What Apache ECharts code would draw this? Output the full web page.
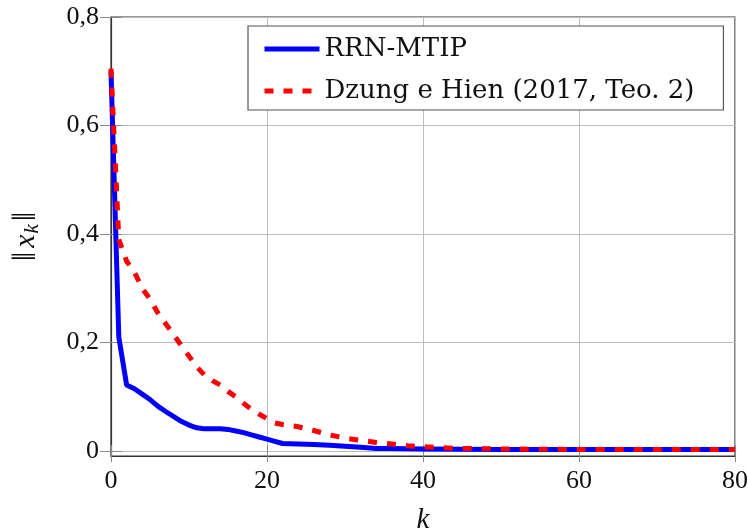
<!DOCTYPE html>
<html>
<head>
<meta charset="utf-8">
<script src="https://cdn.jsdelivr.net/npm/echarts@6/dist/echarts.min.js"></script>
<style>
  html, body { margin: 0; padding: 0; background: #fff; }
  #chart { width: 748px; height: 532px; }
</style>
</head>
<body>
<div id="chart"></div>
<script>
// Iteration index k and norm ||x_k|| for each method
const kRrn = [0, 1, 2, 3, 4, 5, 6, 7, 8, 9, 10, 11, 12, 13, 14, 15, 16, 17, 18, 19, 20, 21, 22, 24, 26, 28, 30, 32, 34, 36, 40, 50, 60, 70, 80];
const normRrn = [0.70, 0.21, 0.122, 0.115, 0.105, 0.095, 0.083, 0.073, 0.064, 0.055, 0.048, 0.043, 0.041, 0.041, 0.041, 0.040, 0.037, 0.034, 0.030, 0.026, 0.022, 0.018, 0.014, 0.013, 0.012, 0.011, 0.009, 0.007, 0.005, 0.005, 0.004, 0.003, 0.003, 0.003, 0.003];

const kDzung = [0, 1, 2, 3, 4, 5, 6, 7, 8, 9, 10, 11, 12, 13, 14, 15, 16, 17, 18, 19, 20, 21, 22, 24, 26, 28, 30, 32, 34, 36, 38, 40, 44, 50, 60, 70, 80];
const normDzung = [0.705, 0.39, 0.35, 0.33, 0.30, 0.28, 0.255, 0.235, 0.215, 0.195, 0.175, 0.155, 0.14, 0.13, 0.122, 0.11, 0.10, 0.088, 0.077, 0.068, 0.060, 0.052, 0.049, 0.045, 0.038, 0.030, 0.024, 0.020, 0.016, 0.013, 0.010, 0.008, 0.005, 0.004, 0.003, 0.003, 0.003];

const seriesNames = ['RRN-MTIP', 'Dzung e Hien (2017, Teo. 2)'];
const yTicks = [0, 0.2, 0.4, 0.6, 0.8];
const yTickLabels = ['0', '0,2', '0,4', '0,6', '0,8'];

const FONT = 'Liberation Serif';
const LEGEND_FONT = 'DejaVu Serif';
const pairs = (ks, vs) => ks.map((k, i) => [k, vs[i]]);

const chart = echarts.init(document.getElementById('chart'), null, { renderer: 'canvas' });

const yLabelMap = {};
yTicks.forEach((v, i) => { yLabelMap[v.toFixed(1)] = yTickLabels[i]; });

const gridLine = { show: true, lineStyle: { color: '#bdbdbd', width: 1 } };
const tickStyle = { show: true, inside: true, length: 11, lineStyle: { color: '#8a8a8a', width: 1 } };
const blueLine = { color: '#0000ff', width: 5, join: 'round' };
const redLine = { color: '#ff0000', width: 5, type: [9, 10], cap: 'butt' };

chart.setOption({
  animation: false,
  backgroundColor: '#ffffff',
  grid: {
    left: 111, right: 13, top: 17, bottom: 76,
    outerBoundsMode: 'none',
    containLabel: false,
    show: true, borderColor: '#333', borderWidth: 1.2, backgroundColor: 'transparent'
  },
  legend: {
    data: [
      { name: seriesNames[0], lineStyle: blueLine },
      { name: seriesNames[1], lineStyle: redLine }
    ],
    orient: 'vertical',
    left: 248, top: 26,
    itemWidth: 55, itemHeight: 14, itemGap: 12,
    padding: [8, 29, 4, 14],
    borderColor: '#555', borderWidth: 1.2,
    backgroundColor: '#fff',
    itemStyle: { opacity: 0 },
    textStyle: { fontFamily: LEGEND_FONT, fontSize: 26, color: '#111', lineHeight: 30 }
  },
  xAxis: [{
    type: 'value', min: 0, max: 80, interval: 20,
    name: 'k', nameLocation: 'middle', nameGap: 50,
    nameTextStyle: { fontFamily: FONT, fontSize: 29, fontStyle: 'italic', color: '#111' },
    axisLine: { show: true, onZero: false, lineStyle: { color: '#333', width: 1.2 } },
    axisTick: tickStyle,
    splitLine: gridLine,
    axisLabel: { fontFamily: FONT, fontSize: 26, color: '#111', margin: 12 }
  }, {
    type: 'value', min: 0, max: 80, interval: 20, position: 'top',
    axisLine: { show: false }, axisTick: tickStyle, axisLabel: { show: false }, splitLine: { show: false }
  }],
  yAxis: [{
    type: 'value', min: -0.009, max: 0.8,
    name: '{n|‖}{i|x}{s|k}{n|‖}', nameLocation: 'middle', nameGap: 68, nameRotate: 90,
    nameTextStyle: {
      fontFamily: FONT, fontSize: 30, color: '#111',
      rich: {
        n: { fontFamily: FONT, fontSize: 34, color: '#111', padding: [0, 2, 0, 2] },
        i: { fontFamily: FONT, fontSize: 30, fontStyle: 'italic', color: '#111', padding: [0, 1, 0, 2] },
        s: { fontFamily: FONT, fontSize: 21, fontStyle: 'italic', color: '#111', verticalAlign: 'bottom', padding: [12, 1, 0, 0] }
      }
    },
    axisLine: { show: true, onZero: false, lineStyle: { color: '#333', width: 1.2 } },
    axisTick: Object.assign({ customValues: yTicks }, tickStyle),
    splitLine: gridLine,
    axisLabel: {
      customValues: yTicks,
      fontFamily: FONT, fontSize: 26, color: '#111', margin: 12,
      formatter: v => yLabelMap[Number(v).toFixed(1)] ?? ''
    }
  }, {
    type: 'value', min: -0.009, max: 0.8, position: 'right',
    axisLine: { show: false },
    axisTick: Object.assign({ customValues: yTicks }, tickStyle),
    axisLabel: { show: false }, splitLine: { show: false }
  }],
  series: [{
    name: seriesNames[0], type: 'line', xAxisIndex: 0, yAxisIndex: 0,
    data: pairs(kRrn, normRrn),
    symbol: 'none', color: '#0000ff',
    lineStyle: blueLine
  }, {
    name: seriesNames[1], type: 'line', xAxisIndex: 0, yAxisIndex: 0,
    data: pairs(kDzung, normDzung),
    symbol: 'none', color: '#ff0000',
    lineStyle: redLine
  }]
});
</script>
</body>
</html>
